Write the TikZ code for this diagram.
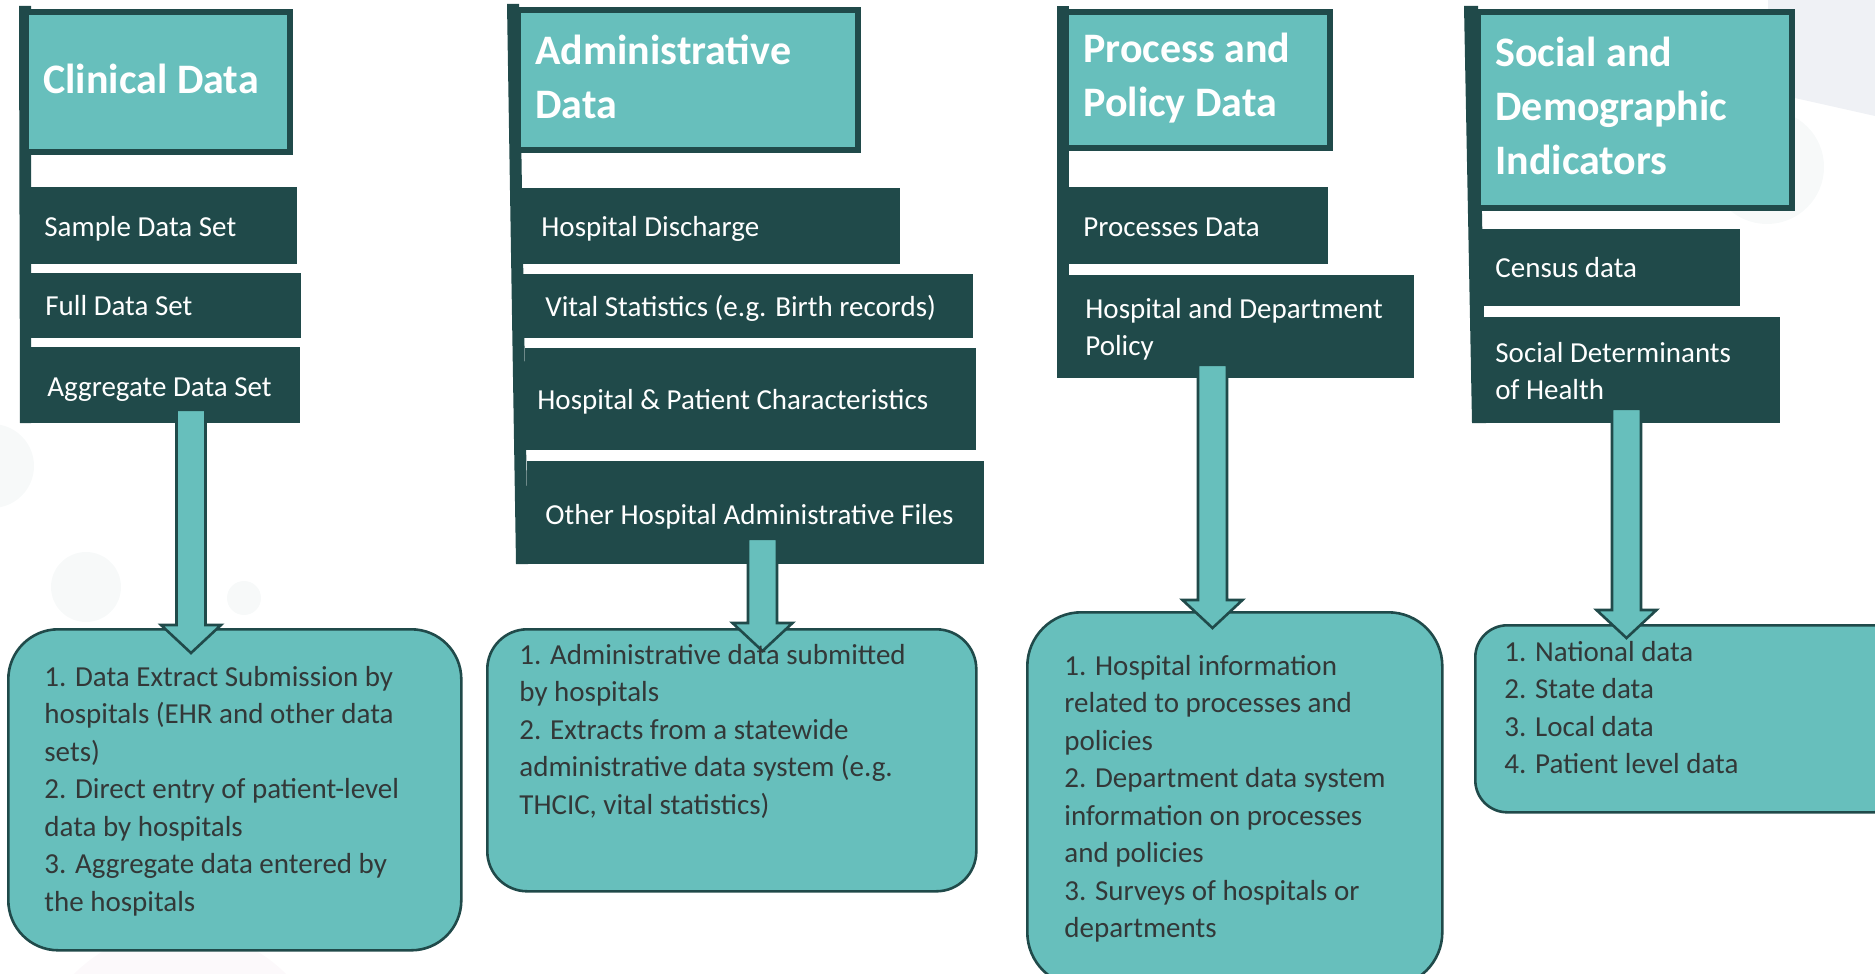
\documentclass[tikz,border=0pt]{standalone}
\usepackage{fontspec}
\setmainfont{Carlito}
\usetikzlibrary{calc}

\definecolor{teal0}{RGB}{103,191,188}
\definecolor{darkteal}{RGB}{32,74,74}
\definecolor{ink}{RGB}{51,56,56}
\definecolor{haze}{RGB}{239,241,245}
\definecolor{mist}{RGB}{247,249,249}
\definecolor{blush}{RGB}{252,249,251}

% left-aligned block of lines whose reference point is the first baseline
\newcommand\linesof[1]{\begin{tabular}[t]{@{}l@{}}#1\end{tabular}}
% rectangle node given by its corners: name, x1, y1, x2, y2, style
\newcommand\areabox[6]{\node[#6,anchor=north west,minimum width={(#4-#2)*0.5pt},minimum height={(#5-#3)*0.5pt}] (#1) at (#2,#3) {};}
% wide block arrow from a source box down into a target box
% source, target, x of the shaft axis, start above source bottom, tip below target top
\newcommand\blockarrow[5]{%
  \path (#1.south-|#3,0) ++(0,-#4) coordinate (#1-top);
  \path (#2.north-|#3,0) ++(0,#5) coordinate (#2-tip);
  \draw[blockarr] ($(#1-top)+(-14.5,0)$) -- ($(#2-tip)+(-14.5,-28)$) -- ($(#2-tip)+(-30,-28)$)
    -- (#2-tip) -- ($(#2-tip)+(30,-28)$) -- ($(#2-tip)+(14.5,-28)$) -- ($(#1-top)+(14.5,0)$) -- cycle;}

\tikzset{
  hdrbox/.style={fill=teal0,draw=darkteal,line width=3pt,inner sep=0},
  itembox/.style={fill=darkteal,inner sep=0},
  listbox/.style={fill=teal0,draw=darkteal,line width=1.3pt,inner sep=0},
  blockarr/.style={fill=teal0,draw=darkteal,line width=1.3pt,line join=miter},
  hdrtext/.style={anchor=base west,inner sep=0,text=white,font=\fontsize{21}{27}\selectfont\bfseries},
  itemtext/.style={anchor=base west,inner sep=0,text=white,font=\fontsize{14.5}{18.5}\selectfont},
  listtext/.style={anchor=base west,inner sep=0,text=ink,font=\fontsize{14.5}{18.75}\selectfont},
}

\begin{document}
\begin{tikzpicture}[x=0.5pt,y=-0.5pt]
\useasboundingbox (0,0) rectangle (1875,974);
\clip (0,0) rectangle (1875,974);

% faint background decoration
\fill[haze] (1768,0) -- (1875,0) -- (1875,116) -- (1768,92) -- cycle;
\fill[mist] (1767,167) circle (57);
\fill[mist] (-8,466) circle (42);
\fill[mist] (86,587) circle (35);
\fill[mist] (244,598) circle (17);
\fill[blush] (180,1080) circle (150);

% ---------- Clinical Data ----------
\fill[darkteal] (19,6) -- (31,6) -- (31,423) -- (20,423) -- cycle;
\areabox{h1}{23}{9}{287}{149}{hdrbox}
\areabox{s1}{31}{187}{297}{264}{itembox}
\areabox{f1}{31}{273}{301}{338}{itembox}
\areabox{agg}{31}{347}{300}{423}{itembox}
\areabox{b1}{7}{628}{460}{949}{listbox,rounded corners=25pt}
\blockarrow{agg}{b1}{191}{14}{25}

% ---------- Administrative Data ----------
\fill[darkteal] (507,4) -- (519,4) -- (528,564) -- (516,564) -- cycle;
\areabox{h2}{515}{7}{855}{147}{hdrbox}
\areabox{hd}{522}{188}{900}{264}{itembox}
\areabox{vs}{523}{274}{973}{338}{itembox}
\areabox{hp}{525}{348}{976}{450}{itembox}
\areabox{oh}{527}{461}{984}{564}{itembox}
\areabox{b2}{486}{628}{975}{890}{listbox,rounded corners=20pt}
\blockarrow{oh}{b2}{762.5}{26}{23}

% ---------- Process and Policy Data ----------
\fill[darkteal] (1057,6) -- (1069,6) -- (1069,378) -- (1057,378) -- cycle;
\areabox{h3}{1063}{9}{1327}{145}{hdrbox}
\areabox{pd}{1069}{187}{1328}{264}{itembox}
\areabox{hdp}{1069}{275}{1414}{378}{itembox}
\areabox{b3}{1026}{611}{1441}{985}{listbox,rounded corners=27pt}
\blockarrow{hdp}{b3}{1212.5}{14}{17}

% ---------- Social and Demographic Indicators ----------
\fill[darkteal] (1464,6) -- (1478,6) -- (1486,423) -- (1472,423) -- cycle;
\areabox{h4}{1475}{9}{1789}{205}{hdrbox}
\areabox{cen}{1481}{229}{1740}{306}{itembox}
\areabox{sdoh}{1483}{317}{1780}{423}{itembox}
\areabox{b4}{1474}{624}{1905}{811}{listbox,rounded corners=16pt}
\blockarrow{sdoh}{b4}{1626.5}{15}{14}

% ---------- headings ----------
\node[hdrtext] (h1t) at (43,94) {Clinical Data};
\node[hdrtext] (h2t) at (535,65) {\linesof{Administrative\\Data}};
\node[hdrtext] (h3t) at (1083,63) {\linesof{Process and\\Policy Data}};
\node[hdrtext] (h4t) at (1495,67) {\linesof{Social and\\Demographic\\Indicators}};

% ---------- data set labels ----------
\node[itemtext] (s1t) at (44,236) {Sample Data Set};
\node[itemtext] (f1t) at (45,315) {Full Data Set};
\node[itemtext] (aggt) at (47,396) {Aggregate Data Set};
\node[itemtext] (hdt) at (541,236) {Hospital Discharge};
\node[itemtext] (vst) at (545,316) {Vital Statistics (e.g. Birth records)};
\node[itemtext] (hpt) at (537,409) {Hospital \& Patient Characteristics};
\node[itemtext] (oht) at (545,524) {Other Hospital Administrative Files};
\node[itemtext] (pdt) at (1083,236) {Processes Data};
\node[itemtext] (hdpt) at (1085,318) {\linesof{Hospital and Department\\Policy}};
\node[itemtext] (cent) at (1495,277) {Census data};
\node[itemtext] (sdoht) at (1495,362) {\linesof{Social Determinants\\of Health}};

% ---------- collection methods ----------
\node[listtext] (b1t) at (44,686) {\linesof{1. Data Extract Submission by\\hospitals (EHR and other data\\sets)\\2. Direct entry of patient-level\\data by hospitals\\3. Aggregate data entered by\\the hospitals}};
\node[listtext] (b2t) at (519,664) {\linesof{1. Administrative data submitted\\by hospitals\\2. Extracts from a statewide\\administrative data system (e.g.\\THCIC, vital statistics)}};
\node[listtext] (b3t) at (1064,675) {\linesof{1. Hospital information\\related to processes and\\policies\\2. Department data system\\information on processes\\and policies\\3. Surveys of hospitals or\\departments}};
\node[listtext] (b4t) at (1504,661) {\linesof{1. National data\\2. State data\\3. Local data\\4. Patient level data}};
\end{tikzpicture}
\end{document}
